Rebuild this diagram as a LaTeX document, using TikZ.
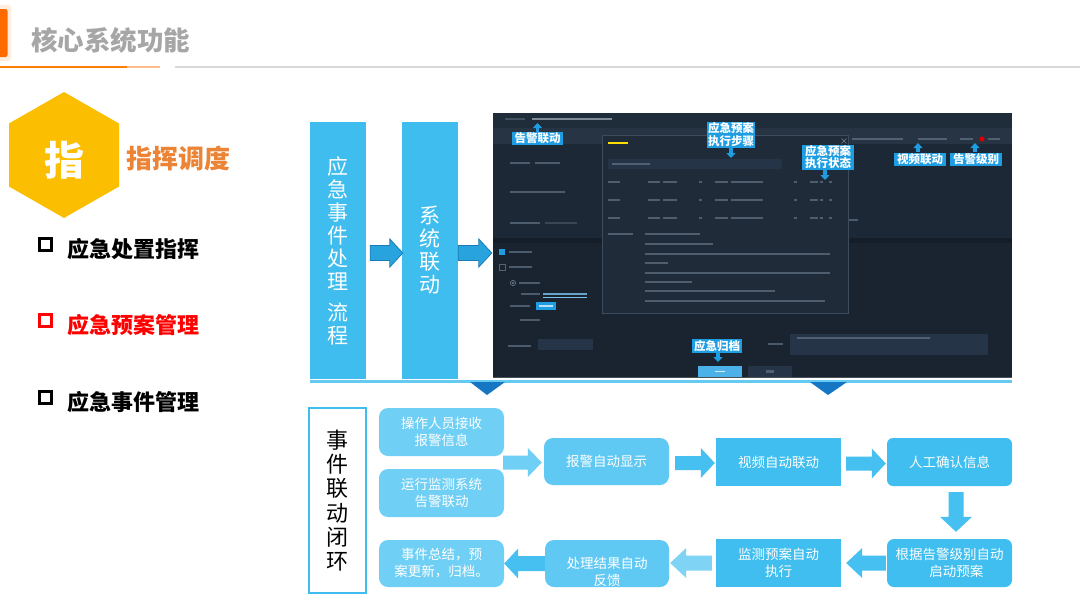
\documentclass[tikz,border=0pt]{standalone}
\usepackage{fontspec}
\setmainfont{Noto Sans CJK SC}
\usetikzlibrary{calc,arrows.meta}
\definecolor{hexc}{HTML}{FBBE00}
\definecolor{headorange}{HTML}{FF6A00}
\definecolor{titlegray}{HTML}{A6A6A6}
\definecolor{subor}{HTML}{EC8335}
\definecolor{colblue}{HTML}{3EBDEE}
\definecolor{arrblue}{HTML}{29A3DD}
\definecolor{arredge}{HTML}{1B7DB8}
\definecolor{tri}{HTML}{1577C4}
\definecolor{lbox}{HTML}{6FCFF4}
\definecolor{mbox}{HTML}{5FC9F3}
\definecolor{dbox}{HTML}{3FBEEF}
\definecolor{farr}{HTML}{45C0F0}
\definecolor{farrl}{HTML}{7FD3F4}
\definecolor{shotbg}{HTML}{1A2431}
\definecolor{shottop}{HTML}{1F2C3A}
\definecolor{shotband}{HTML}{263444}
\definecolor{shotpanel}{HTML}{1D2836}
\definecolor{shotline}{HTML}{151D28}
\definecolor{dlg}{HTML}{1F2B39}
\definecolor{dlgedge}{HTML}{3C4C5D}
\definecolor{inbox}{HTML}{253446}
\definecolor{tbarc}{HTML}{6E8093}
\definecolor{callc}{HTML}{1E9DE2}
\newcommand\fsz[2]{\fontsize{#1pt}{#2pt}\selectfont}
% horizontal block arrow to the right: style, tail, tip, shaft half, head half, head length
\newcommand\blockR[6]{\path[#1] let \p1=(#2), \p2=(#3) in
  (\x1,\y1+#4pt) -- (\x2-#6pt,\y1+#4pt) -- (\x2-#6pt,\y1+#5pt) -- (\x2,\y1)
  -- (\x2-#6pt,\y1-#5pt) -- (\x2-#6pt,\y1-#4pt) -- (\x1,\y1-#4pt) -- cycle;}
\newcommand\blockL[6]{\path[#1] let \p1=(#2), \p2=(#3) in
  (\x1,\y1+#4pt) -- (\x2+#6pt,\y1+#4pt) -- (\x2+#6pt,\y1+#5pt) -- (\x2,\y1)
  -- (\x2+#6pt,\y1-#5pt) -- (\x2+#6pt,\y1-#4pt) -- (\x1,\y1-#4pt) -- cycle;}
\newcommand\blockD[6]{\path[#1] let \p1=(#2), \p2=(#3) in
  (\x1-#4pt,\y1) -- (\x1-#4pt,\y2+#6pt) -- (\x1-#5pt,\y2+#6pt) -- (\x1,\y2)
  -- (\x1+#5pt,\y2+#6pt) -- (\x1+#4pt,\y2+#6pt) -- (\x1+#4pt,\y1) -- cycle;}
\newcommand\tb[3]{\fill[tbarc,opacity=.6] (#1,#2-1.2) rectangle (#3,#2+1.2);}
\begin{document}
\begin{tikzpicture}[x=1pt,y=-1pt,
  colbox/.style={fill=colblue,minimum width=56,minimum height=257,inner sep=0,
    text=white,align=center,font=\fsz{21}{23}},
  fbox/.style={minimum width=125,minimum height=48,inner sep=0,text=white,
    align=center,font=\fsz{13.5}{17}},
  wtext/.style={text=white,align=center,font=\fsz{13.5}{17},inner sep=0},
  callout/.style={fill=callc,text=white,align=center,inner sep=0,
    font=\bfseries\fsz{11.5}{12.5}},
  callarr/.style={-{Triangle[width=9pt,length=5pt]},line width=3.5pt,callc},
  listtxt/.style={anchor=west,font=\bfseries\fsz{22}{22},inner sep=0},
  colarrow/.style={fill=arrblue,draw=arredge,line width=.8pt},
]
\useasboundingbox (0,0) rectangle (1080,608);
\fill[white] (0,0) rectangle (1080,608);
% ---------- header ----------
\fill[headorange!12,rounded corners=3] (-3,5) rectangle (11,61);
\fill[headorange,rounded corners=2] (-3,9) rectangle (7.5,57);
\node[anchor=west,text=titlegray,font=\bfseries\fsz{26.5}{26.5},inner sep=0] (title) at (31,40) {核心系统功能};
\draw[headorange!85!yellow,line width=2] (0,67) -- (127,67);
\draw[headorange!45,line width=2] (127,67) -- (160,67);
\draw[black!15,line width=1.5] (175,67) -- (1080,67);
% ---------- hexagon ----------
\fill[hexc] (64,92) -- (119,123.5) -- (119,186.5) -- (64,218) -- (9,186.5) -- (9,123.5) -- cycle;
\node[text=white,font=\bfseries\fsz{40}{40},inner sep=0] (zhi) at (64,160) {指};
\node[anchor=west,text=subor,font=\bfseries\fsz{26}{26},inner sep=0] (zhhd) at (126,159) {指挥调度};
% ---------- list ----------
\draw[line width=2.6] (39.5,238.5) rectangle (51.5,250.5);
\node[listtxt] (l1) at (67,249) {应急处置指挥};
\draw[red,line width=2.6] (39.5,314.5) rectangle (51.5,326.5);
\node[listtxt,text=red] (l2) at (67,325) {应急预案管理};
\draw[line width=2.6] (39.5,391.5) rectangle (51.5,403.5);
\node[listtxt] (l3) at (67,402) {应急事件管理};
% ---------- columns ----------
\node[colbox] (colA) at (338,250.5) {应\\急\\事\\件\\处\\理\\[8pt]流\\程};
\node[colbox] (colB) at (430,250.5) {系\\统\\联\\动};
% ---------- screenshot ----------
\node[fill=shotbg,minimum width=519,minimum height=265,inner sep=0] (shot) at (752.5,245.5) {};
\fill[shottop] (493,113) rectangle (1012,128);
\fill[shotband] (493,128) rectangle (1012,144);
\fill[shotpanel] (493,144) rectangle (1012,238);
\fill[shotline] (493,238) rectangle (1012,243);
\fill[shotbg!80!white] (493,376.5) rectangle (1012,378);
% top text
\fill[tbarc,opacity=.45] (505,117.8) rectangle (525,120.2);
\fill[tbarc!60!white,opacity=.7] (532,117.8) rectangle (612,120.2);
\tb{852}{139}{903}\tb{918}{139}{947}\tb{960}{139}{973}\tb{988}{139}{1000}
\fill[red!85!black] (982,139) circle (2.6);
% left panel
\tb{510}{163}{530}\tb{535}{163}{560}
\tb{510}{192}{565}
\tb{510}{223}{540}
\fill[tbarc,opacity=.35] (545,222.3) rectangle (577,223.7);
\tb{849}{220}{858}
% lower left form
\fill[callc] (499,249) rectangle (505,255);
\tb{509}{252}{532}
\draw[tbarc,opacity=.7,line width=.6] (499,264) rectangle (505,270);
\tb{509}{267}{532}
\draw[tbarc,line width=.6] (513,283) circle (2.6);
\fill[tbarc] (513,283) circle (1.1);
\tb{519}{283}{540}
\tb{521}{294}{540}
\fill[callc!60!white,opacity=.8] (543,292.8) rectangle (587,295.2);
\draw[callc!60!white,line width=.4] (543,297) -- (587,297);
\tb{510}{306}{530}
\fill[callc] (536,302) rectangle (556,310);
\fill[white,opacity=.7] (539,305.3) rectangle (553,306.7);
\tb{520}{320}{540}
\tb{508}{346}{531}
\fill[inbox] (538,339) rectangle (593,350);
\tb{768}{344}{783}
\fill[inbox] (790,334) rectangle (988,355);
\tb{797}{338}{930}
% buttons
\node[fill=callc!80!white,minimum width=44,minimum height=11,inner sep=0] (okbtn) at (720,371.5) {};
\fill[white,opacity=.8] (715,370.8) rectangle (725,372.2);
\node[fill=inbox,minimum width=44,minimum height=11,inner sep=0] (backbtn) at (770,371.5) {};
\tb{766}{371.5}{774}
% dialog
\node[fill=dlg,draw=dlgedge,line width=.6,minimum width=246,minimum height=178,inner sep=0] (dlg) at (725,224) {};
\fill[yellow!80!orange] (608,141.8) rectangle (628,144.2);
\draw[tbarc,line width=.6] (841.5,138.5) -- (846.5,143.5) (841.5,143.5) -- (846.5,138.5);
\fill[inbox] (608,159) rectangle (782,169);
\tb{612}{164}{650}
\foreach \yy in {182,200,218}{
  \tb{608}{\yy}{620}\tb{648}{\yy}{660}\tb{663}{\yy}{677}\tb{699}{\yy}{701.5}
  \tb{715}{\yy}{728}\tb{731}{\yy}{763}\tb{794}{\yy}{796.5}\tb{810}{\yy}{818}
  \tb{820}{\yy}{823}\tb{829}{\yy}{831.5}}
\tb{608}{234}{633}
\tb{645}{234}{700}\tb{645}{244}{713}\tb{645}{254}{830}\tb{645}{263}{668}
\tb{645}{273}{830}\tb{645}{282}{692}\tb{645}{291}{775}\tb{645}{301}{825}
% callouts
\node[callout,minimum width=51,minimum height=13] (c1) at (537.5,138.5) {告警联动};
\draw[callarr] (c1.north) -- (537.5,123);
\node[callout,minimum width=48,minimum height=26] (c2) at (731,134.5) {应急预案\\执行步骤};
\draw[callarr] (c2.south) -- (731,158);
\node[callout,minimum width=52,minimum height=25] (c3) at (828,157) {应急预案\\执行状态};
\draw[callarr] ([xshift=-3]c3.south) -- (825,180);
\node[callout,minimum width=52,minimum height=13] (c4) at (920,159) {视频联动};
\draw[callarr] ([xshift=-2]c4.north) -- (918,143);
\node[callout,minimum width=52,minimum height=13] (c5) at (976,159) {告警级别};
\draw[callarr] ([xshift=-1]c5.north) -- (975,143);
\node[callout,minimum width=50,minimum height=14] (c6) at (717,346) {应急归档};
\draw[callarr] ([xshift=1]c6.south) -- (718,362);
% column arrows
\blockR{colarrow}{$(colA.east)+(4,2.5)$}{$(colB.west)+(1,2.5)$}{7.5}{14}{13}
\blockR{colarrow}{$(colB.east)+(0,2.5)$}{$(shot.west)+(-1,2.5)$}{7.5}{14}{13}
% bar and triangles
\draw[colblue!80!white,line width=2.5] (310,381.5) -- (1012,381.5);
\fill[tri] (470,382) -- (505,382) -- (487,395) -- cycle;
\fill[tri] (810,382) -- (847,382) -- (828,395) -- cycle;
% ---------- bottom flow ----------
\node[draw=colblue,line width=1.8,fill=white,minimum width=57,minimum height=185,inner sep=0,
  align=center,font=\fsz{22}{24.3}] (ev) at (337.5,500.5) {事\\件\\联\\动\\闭\\环};
\node[fbox,fill=lbox,rounded corners=9] (op) at (441.5,432) {操作人员接收\\报警信息};
\node[fbox,fill=lbox,rounded corners=9] (yx) at (441.5,493) {运行监测系统\\告警联动};
\node[fbox,fill=mbox,rounded corners=9,minimum height=47] (bj) at (606.5,461.5) {报警自动显示};
\node[fbox,fill=dbox] (sp) at (778.5,462) {视频自动联动};
\node[fbox,fill=dbox,rounded corners=6] (rg) at (949.5,462) {人工确认信息};
\node[fbox,fill=dbox,rounded corners=7] (gen) at (949.5,563) {根据告警级别自动\\\hspace*{1em}启动预案};
\node[fbox,fill=dbox] (jc) at (778.5,563) {监测预案自动\\执行};
\node[fbox,fill=mbox,rounded corners=9,minimum width=124,minimum height=47] (cl) at (607,563.5) {};
\node[wtext] (clt) at (607,571.5) {处理结果自动\\反馈};
\node[fbox,fill=lbox,rounded corners=9,minimum height=47] (zj) at (441.5,563.5) {事件总结，预\\案更新，归档。};
% flow arrows
\blockR{fill=lbox}{$(op.east)!0.5!(yx.east)+(-1,0)$}{$(bj.west)+(-2,1)$}{7}{14.5}{14}
\blockR{fill=farr}{$(bj.east)+(6,1.5)$}{$(sp.west)+(-1,1.5)$}{7}{15}{14}
\blockR{fill=farr}{$(sp.east)+(5,1.5)$}{$(rg.west)+(-1,1.5)$}{7}{15}{14}
\blockD{fill=farr}{$(rg.south)+(6.5,6)$}{$(gen.north)+(6.5,-7)$}{7.5}{16}{15}
\blockL{fill=farr}{$(gen.west)+(-1,0)$}{$(jc.east)+(5,0)$}{7.5}{15}{16}
\blockL{fill=farrl}{$(jc.west)+(-4,0)$}{$(cl.east)+(1,0)$}{7.5}{15}{16}
\blockL{fill=farr}{$(cl.west)+(0,0)$}{$(zj.east)+(0,0)$}{7.5}{15}{14}
\end{tikzpicture}
\end{document}
